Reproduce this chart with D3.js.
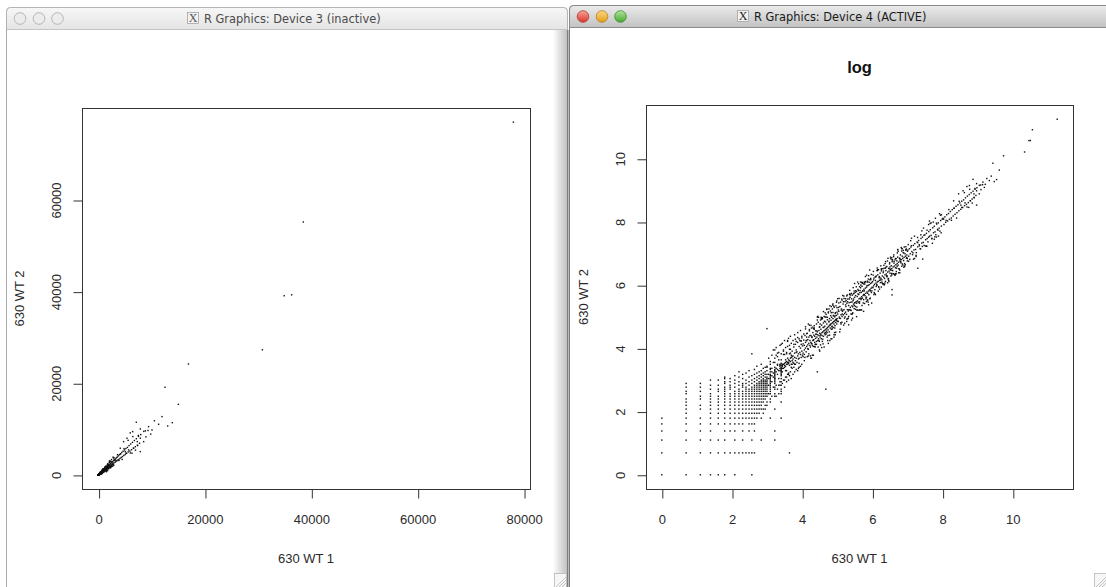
<!DOCTYPE html>
<html>
<head>
<meta charset="utf-8">
<script src="https://cdnjs.cloudflare.com/ajax/libs/d3/7.8.5/d3.min.js"></script>
<style>
  html, body { margin: 0; padding: 0; background: #fff; }
  svg { display: block; }
</style>
</head>
<body>
<svg id="chart" width="1106" height="587"></svg>
<script>
// read counts, [630 WT 1, 630 WT 2]; small counts sit on a grid in the log panel
const lowPairs = [
  [1,1],[1,2],[1,3],[1,4],[1,5],[1,6],
  [2,1],[2,2],[2,3],[2,4],[2,5],[2,6],[2,7],[2,8],[2,9],[2,10],[2,11],[2,13],[2,14],[2,16],[2,18],
  [3,1],[3,2],[3,3],[3,4],[3,5],[3,6],[3,8],[3,9],[3,11],[3,12],[3,14],[3,16],[3,18],
  [4,1],[4,2],[4,3],[4,4],[4,5],[4,6],[4,7],[4,8],[4,9],[4,10],[4,11],[4,12],[4,13],[4,15],[4,17],[4,20],
  [5,1],[5,2],[5,3],[5,5],[5,6],[5,7],[5,8],[5,9],[5,10],[5,11],[5,12],[5,14],[5,15],[5,17],[5,20],
  [6,1],[6,2],[6,3],[6,4],[6,5],[6,6],[6,7],[6,8],[6,9],[6,10],[6,11],[6,12],[6,13],[6,14],[6,15],[6,16],[6,18],[6,19],[6,21],[6,22],
  [7,2],[7,4],[7,5],[7,6],[7,7],[7,8],[7,9],[7,10],[7,11],[7,12],[7,13],[7,15],[7,16],[7,17],[7,19],[7,21],
  [8,1],[8,2],[8,3],[8,4],[8,5],[8,6],[8,7],[8,8],[8,9],[8,10],[8,11],[8,12],[8,13],[8,14],[8,16],[8,18],[8,20],[8,23],
  [9,2],[9,5],[9,6],[9,7],[9,8],[9,9],[9,10],[9,11],[9,12],[9,13],[9,14],[9,15],[9,17],[9,19],[9,22],[9,26],
  [10,2],[10,3],[10,4],[10,5],[10,6],[10,7],[10,8],[10,9],[10,10],[10,11],[10,12],[10,13],[10,14],[10,16],[10,17],[10,18],[10,21],[10,24],
  [11,2],[11,6],[11,7],[11,8],[11,9],[11,10],[11,11],[11,12],[11,13],[11,14],[11,15],[11,16],[11,18],[11,20],[11,25],
  [12,2],[12,4],[12,5],[12,6],[12,7],[12,8],[12,9],[12,10],[12,11],[12,12],[12,13],[12,14],[12,15],[12,17],[12,19],[12,22],[12,27],
  [13,1],[13,2],[13,3],[13,5],[13,6],[13,7],[13,8],[13,9],[13,10],[13,11],[13,12],[13,13],[13,14],[13,15],[13,16],[13,18],[13,20],[13,23],[13,46],
  [14,2],[14,4],[14,5],[14,6],[14,7],[14,8],[14,9],[14,10],[14,11],[14,12],[14,13],[14,14],[14,15],[14,16],[14,17],[14,19],[14,21],[14,24],[14,28],
  [15,6],[15,7],[15,8],[15,9],[15,10],[15,11],[15,12],[15,13],[15,14],[15,15],[15,16],[15,17],[15,18],[15,20],[15,22],[15,25],[15,31],
  [16,7],[16,8],[16,9],[16,10],[16,11],[16,12],[16,13],[16,14],[16,15],[16,16],[16,17],[16,18],[16,19],[16,21],[16,23],[16,26],
  [17,3],[17,6],[17,8],[17,9],[17,10],[17,11],[17,12],[17,13],[17,14],[17,15],[17,16],[17,17],[17,18],[17,19],[17,20],[17,22],[17,24],[17,27],[17,33],
  [18,7],[18,8],[18,10],[18,11],[18,12],[18,13],[18,14],[18,15],[18,16],[18,17],[18,18],[18,19],[18,20],[18,21],[18,23],[18,25],[18,29],
  [19,8],[19,9],[19,11],[19,12],[19,13],[19,14],[19,15],[19,16],[19,17],[19,18],[19,19],[19,20],[19,22],[19,24],[19,26],[19,30],
  [20,9],[20,10],[20,12],[20,13],[20,14],[20,15],[20,16],[20,17],[20,18],[20,19],[20,20],[20,21],[20,22],[20,24],[20,27],[20,31],[20,102],
  [22,6],[22,10],[22,11],[22,13],[22,14],[22,16],[22,17],[22,18],[22,19],[22,20],[22,21],[22,22],[22,23],[22,24],[22,26],[22,28],[22,33],
  [25,3],[25,4],[25,8],[25,12],[25,13],[25,15],[25,16],[25,18],[25,19],[25,20],[25,21],[25,22],[25,23],[25,24],[25,25],[25,26],[25,28],[25,30],[25,35],
  [30,6],[30,10],[30,13],[30,15],[30,17],[30,19],[30,21],[30,23],[30,24],[30,25],[30,26],[30,27],[30,28],[30,29],[30,30],[30,32],[30,34],[30,38],
  [38,2]
]

// where the grid runs into the cloud, counts 20 to 55
const neckPairs = [
  [21,40],[21,13],[22,36],[23,12],[23,44],[24,16],[24,52],[25,40],[26,12],[26,56],[27,15],[27,42],[28,48],[28,13],
  [29,60],[29,19],[30,46],[30,14],[31,64],[31,18],[32,52],[32,20],[33,70],[33,16],[34,56],[34,22],[35,46],[35,19],
  [36,58],[36,24],[37,75],[37,20],[38,60],[38,23],[39,80],[39,26],[40,64],[40,21],[42,70],[42,24],[44,84],[44,26],
  [46,68],[46,28],[48,90],[48,27],[50,74],[50,30],[52,96],[52,31],[54,80],[54,33],
  [21,21],[23,23],[24,25],[26,26],[27,28],[28,27],[29,29],[31,31],[32,33],[33,32],[34,35],[35,36],[36,35],[37,38],
  [38,37],[39,40],[40,41],[41,42],[42,43]
]

const bandA = [
  [21,24],[21,17],[22,29],[23,19],[23,26],[24,22],[24,35],[25,27],[26,29],[26,17],[27,33],[27,24],[28,21],[28,38],
  [29,27],[29,31],[31,33],[31,26],[32,29],[32,45],[33,30],[33,20],[34,38],[34,31],[35,27],[35,48],[36,33],[36,40],
  [37,25],[37,35],[38,46],[38,32],[39,36],[39,53],[40,44],[40,30],[41,33],[41,50],[42,39],[42,35],[43,57],[43,30],
  [44,41],[44,47],[45,37],[45,62],[46,40],[46,52],[47,35],[47,49],[48,43],[48,66],[49,39],[49,46],[50,58],[50,34],
  [51,48],[51,70],[52,55],[52,45],[53,62],[53,41],[54,50],[54,76],[55,44],[55,59],
  [27,32],[29,33],[31,32],[33,34],[35,33],[37,34],[40,33],[43,34],[45,33],[30,62],[25,52],[36,70],[84,26],[107,15],
  [20,30],[22,15],[23,29],[25,21],[26,44],[28,17],[29,32],[31,29],[33,45],[34,27],[36,68],[37,24],[39,47],[41,37],
  [43,62],[44,33],[46,48],[48,77],[50,40],[53,69]
]

const bandB = [
  [56,63],[56,47],[57,71],[58,52],[58,60],[59,82],[60,55],[60,66],[61,49],[62,70],[62,58],[63,88],[64,61],[64,72],
  [65,53],[66,78],[66,64],[67,95],[68,60],[68,70],[69,57],[70,82],[70,66],[71,104],[72,63],[72,77],[73,60],[74,90],
  [74,70],[75,58],[76,83],[76,72],[77,112],[78,66],[78,80],[79,62],[80,95],[80,75],[81,86],[82,68],[82,118],[83,78],
  [84,92],[85,70],[85,84],[86,125],[87,74],[88,96],[88,82],[89,68],[90,108],[90,88],[91,78],[92,134],[93,86],[93,100],
  [94,74],[95,114],[96,90],[96,82],[97,140],[98,92],[99,106],[100,80],[100,122],[101,95],[102,150],[103,88],[104,110],
  [104,97],[105,84],[106,126],[107,100],[108,160],[109,94],[110,118],[110,103],[111,90],[112,135],[113,106],[114,98],
  [115,168],[116,110],[117,126],[118,92],[119,140],[120,113],[121,104],[122,178],[123,118],[124,133],[125,100],[126,146],
  [127,120],[128,110],[129,190],[130,124],[131,140],[132,106],[133,155],[134,127],[135,118],[136,200],[137,130],[138,148],
  [139,112],[140,165],[141,134],[142,124],[143,210],[144,137],[145,155],[146,118],[147,172],[148,140],
  [60,108],[70,40],[85,150],[95,56],[110,190],[120,70],[130,215],[140,84],[65,118],[75,44],[100,175],[115,64],
  [125,205],[135,78],[145,235],[90,50],
  [57,86],[59,41],[62,78],[64,54],[67,114],[69,43],[72,79],[75,71],[77,104],[80,62],[83,95],[86,57],[89,107],[92,83],
  [95,138],[98,73],[101,106],[105,168],[108,86],[112,146],[115,173],[119,83],[123,154],[127,108],[131,223],[135,84],
  [139,153],[143,136],[147,198],
  [58,45],[61,70],[65,43],[68,82],[71,64],[74,107],[78,58],[81,85],[84,134],[88,70],[91,118],[94,141],[97,68],
  [103,129],[106,90],[110,187],[113,70],[117,129],[121,115],[125,169],[129,101],[133,153],[137,90],[141,169],[146,131]
]

const bandC = [
  [150,162],[152,128],[155,176],[157,147],[160,205],[162,141],[165,158],[167,190],[170,150],[172,176],[175,222],
  [177,158],[180,186],[183,165],[185,240],[188,172],[190,205],[193,160],[195,228],[198,186],[200,260],[203,178],
  [205,212],[208,232],[210,186],[213,275],[215,200],[218,235],[220,181],[223,262],[225,210],[228,295],[230,204],
  [233,248],[236,222],[238,312],[240,213],[243,275],[246,232],[248,206],[250,290],[254,240],[256,330],[258,228],
  [262,282],[264,245],[267,352],[270,236],[273,300],[276,262],[279,228],[282,318],[285,268],[288,372],[291,256],
  [294,322],[297,280],[300,390],[304,268],[307,335],[310,292],[314,255],[317,355],[320,300],[324,418],[327,290],
  [331,368],[334,312],[338,276],[342,380],[345,325],[349,445],[353,312],[357,400],[360,335],[364,298],[368,410],
  [372,350],[376,480],[380,336],[384,425],[388,365],[392,320],[396,438],[400,378],
  [155,230],[165,118],[180,265],[195,138],[210,300],[225,160],[240,335],[260,182],[280,385],[300,212],[320,445],
  [340,240],[360,490],[380,268],[170,252],[230,168],[290,405],[350,248],[205,150],[315,420],
  [151,128],[156,265],[161,100],[166,183],[171,162],[177,239],[182,142],[188,216],[194,128],[199,239],[206,185],
  [212,307],[219,162],[226,237],[233,373],[240,192],[247,321],[255,383],[263,184],[271,339],[280,238],[288,446],
  [297,184],[306,337],[316,300],[326,440],[336,262],[346,398],[357,236],[368,442],[380,342],[391,567],
  [153,184],[158,142],[163,236],[169,125],[174,183],[179,286],[185,148],[191,248],[197,296],[203,142],[209,261],
  [216,184],[222,311],[229,142],[236,260],[243,231],[251,339],[259,202],[267,307],[275,182],[284,341],[293,264],
  [302,438],[311,230],[321,337],[331,530],[341,273],[352,458],[363,545],[374,262],[385,481],[397,337]
]

const bandD = [
  [405,452],[410,372],[418,395],[422,505],[428,415],[433,350],[440,468],[446,430],[451,540],[458,402],[463,445],
  [470,560],[476,455],[481,385],[489,512],[494,470],[502,590],[507,438],[515,500],[521,635],[528,478],[535,540],
  [541,420],[549,600],[556,520],[563,690],[570,498],[577,560],[585,455],[592,640],[600,575],[608,730],[616,540],
  [624,610],[632,490],[640,688],[648,630],[657,790],[665,590],[674,665],[683,540],[692,745],[700,680],[709,850],
  [719,640],[728,718],[737,580],[747,810],[757,740],[767,900],[777,700],[787,770],[797,620],[808,870],[818,800],
  [829,980],[840,760],[851,835],[862,680],[873,940],[885,870],[896,1050],[908,820],[920,905],[932,735],[944,1010],
  [957,940],[969,1130],[982,880],[995,975],[1008,800],[1021,1090],[1035,1010],[1048,1220],[1062,950],[1076,1050],
  [1090,870],[1095,1180],
  [420,300],[460,640],[520,380],[580,800],[640,470],[700,960],[760,560],[820,1120],[880,650],[940,1280],[1000,740],
  [480,660],[560,410],[680,930],[790,580],[706,296],[706,351],
  [412,556],[425,319],[437,524],[450,387],[463,695],[477,334],[491,530],[506,476],[521,667],[536,429],[552,629],
  [568,409],[585,690],[602,542],[620,868],[638,498],[657,677],[676,980],[696,585],[716,895],[737,995],[759,569],
  [781,937],[804,691],[828,1242],[852,596],[877,947],[903,849],[930,1190],[957,766],[985,1123],[1014,730],
  [1044,1232],[1075,968],
  [418,477],[431,310],[444,524],[457,411],[470,658],[484,378],[498,513],[513,744],[528,444],[544,680],[560,756],
  [576,432],[593,712],[611,525],[629,944],[647,453],[666,719],[686,645],[706,904],[726,581],[748,853],[770,554],
  [792,935],[816,734],[840,1176],[864,674],[890,917],[916,1328],[943,792],[971,1214],[999,1349],[1029,772],
  [1059,1271],[1090,937]
]

const bandE = [
  [1110,1230],[1135,1010],[1160,1280],[1185,1090],[1210,1350],[1240,1170],[1265,1060],[1295,1420],[1320,1230],
  [1350,1500],[1380,1250],[1410,1130],[1440,1580],[1470,1360],[1505,1660],[1540,1400],[1575,1280],[1610,1770],
  [1645,1530],[1680,1850],[1720,1560],[1760,1420],[1800,1980],[1840,1700],[1880,2080],[1920,1760],[1965,1590],
  [2010,2200],[2055,1900],[2100,2330],[2150,1950],[2200,1780],[2250,2480],[2300,2120],[2350,2600],[2400,2180],
  [2460,1990],[2520,2790],[2580,2360],[2640,2900],[2700,2450],[2760,2230],[2820,3120],[2880,2620],[2950,3260],
  [1200,1650],[1400,1000],[1650,2250],[1900,1380],[2150,2900],[2500,1850],[2800,3700],[1300,920],[2000,2750],
  [2350,1720],[1470,690],[1690,920],
  [1120,1456],[1170,913],[1225,1409],[1280,1126],[1340,1903],[1400,1036],[1465,1553],[1530,1454],[1600,1984],
  [1675,1374],[1750,1960],[1830,1391],[1915,2298],[2000,1840],[2090,2842],[2185,1748],[2285,2971],[2390,1864],
  [2500,2875],[2610,2297],[2730,3877],[2860,2116]
]

// the looser edge of the cloud, log 3.3 to 8
const bandWide = [
  [27,47],[29,17],[32,50],[35,22],[38,53],[41,29],[45,73],[49,29],[53,69],
  [56,42],[60,101],[63,42],[67,99],[71,40],[75,102],[79,57],[84,147],[89,52],[94,146],[99,63],[105,147],[111,78],
  [117,190],[124,74],[131,170],[138,104],[146,245],
  [58,37],[62,87],[66,46],[70,113],[73,44],[77,100],[82,62],[87,146],[92,61],[97,144],[102,57],[108,147],[114,82],
  [120,210],[127,74],[134,208],[142,91],
  [150,263],[159,92],[168,260],[178,114],[188,263],[199,139],[211,342],[223,134],[236,307],[250,188],[265,445],
  [280,185],[297,440],[314,176],[333,453],[352,253],[373,653],[395,229],
  [154,200],[164,123],[173,291],[183,121],[194,287],[205,115],[217,295],[229,165],[243,425],[257,149],[272,422],
  [288,184],[305,427],[323,226],[342,554],[362,217],[384,499],
  [415,623],[440,299],[466,643],[494,356],[523,680],[554,421],[587,851],[622,435],[659,824],[698,558],[740,1051],
  [784,580],[830,1245],[880,598],[932,1286],[988,711],[1047,1361],
  [1130,859],[1230,1784],[1340,938],[1460,1825],[1590,1272],[1730,2457],[1880,1391],[2050,3075],[2230,1516],
  [2430,3353],[2650,1908],[2880,3744]
]

const bandF = [
  [3020,3350],[3100,2750],[3180,3500],[3260,2950],[3350,3750],[3440,3080],[3530,3900],[3620,3250],[3720,4150],
  [3820,3380],[3920,4400],[4030,3600],[4140,4600],[4250,3800],[4370,4900],[4490,4000],[4610,5150],[4740,4250],
  [4870,5450],[5000,4450],[5140,5750],[5280,4700],[5420,6000],[5570,5000],[5720,6400],[5880,5200],[6040,6750],
  [6200,5500],[6370,7100],[6550,5850],[6730,7500],[6910,6150],[7100,7900],[7300,6500],[7500,8400],[7700,6900],
  [7920,8800],[5340,8000],[4700,7260],[7280,7260],[7850,8000],[8470,7260],[7340,6390],[6590,5820],[5650,5450],
  [5020,5080],[6280,4730],[7850,5080],[4080,5820],[5960,9160],[6400,9440],[7090,11490],[7850,10030],
  [3070,3254],[3300,3135],[3560,4414],[3830,3141],[4120,4614],[4440,3374],[4780,5736],[5150,4738],[5550,7548],
  [5980,4784],[6440,8372],[6940,5413],[7480,8602]
]

const tailPairs = [
  [9400,10530],[10040,9810],[8800,9600],[9300,9700],[8500,9500],[11290,11050],[12990,10690],[13870,11400],
  [11930,12720],[15000,15400],[12490,19130],[16900,24200],[9800,8900],[10500,11800],[8900,8300],
  [30800,27300],[34900,39100],[36300,39300],[38500,55200],[78000,77000]
]

const rawTicksX = [0, 20000, 40000, 60000, 80000]
const rawTicksY = [0, 20000, 40000, 60000]
const logTicks = [0, 2, 4, 6, 8, 10]

const windowTitles = ["R Graphics: Device 3 (inactive)", "R Graphics: Device 4 (ACTIVE)"]
const plotTitle = "log"
const xLabel = "630 WT 1"
const yLabel = "630 WT 2"

let counts = [].concat(lowPairs, neckPairs, bandA, bandB, bandC, bandD, bandE, bandWide, bandF, tailPairs)
let logged = counts.map(function(p) { return [Math.log(p[0]), Math.log(p[1])] })

let svg = d3.select("#chart")
let defs = svg.append("defs")

function gradient(id, top, bottom) {
  let g = defs.append("linearGradient").attr("id", id)
    .attr("x1", 0).attr("y1", 0).attr("x2", 0).attr("y2", 1)
  g.append("stop").attr("offset", "0%").attr("stop-color", top)
  g.append("stop").attr("offset", "100%").attr("stop-color", bottom)
}
gradient("barInactive", "#f7f7f7", "#e4e4e4")
gradient("barActive", "#ebebeb", "#c2c2c2")
gradient("red", "#f7a39a", "#d9362a")
gradient("yellow", "#fbd98a", "#e29d16")
gradient("green", "#b2e69c", "#45a82f")

let shadow = defs.append("linearGradient").attr("id", "shadow")
  .attr("x1", 0).attr("y1", 0).attr("x2", 1).attr("y2", 0)
shadow.append("stop").attr("offset", "0%").attr("stop-color", "#000").attr("stop-opacity", 0)
shadow.append("stop").attr("offset", "100%").attr("stop-color", "#000").attr("stop-opacity", 0.28)

// ---- window frames ----
function drawWindow(left, top, width, active, title, iconX) {
  let w = svg.append("g")
  w.append("rect")
    .attr("x", left + 0.5).attr("y", top + 0.5)
    .attr("width", width).attr("height", 700)
    .attr("rx", 4)
    .attr("fill", "#fff")
    .attr("stroke", active ? "#7d7d7d" : "#a9a9a9")
  w.append("path")
    .attr("d", "M" + (left + 0.5) + "," + (top + 22.5) + " V" + (top + 4.5) +
      " Q" + (left + 0.5) + "," + (top + 0.5) + " " + (left + 4.5) + "," + (top + 0.5) +
      " H" + (left + width - 3.5) + " Q" + (left + width + 0.5) + "," + (top + 0.5) + " " +
      (left + width + 0.5) + "," + (top + 4.5) + " V" + (top + 22.5) + " Z")
    .attr("fill", active ? "url(#barActive)" : "url(#barInactive)")
    .attr("stroke", active ? "#8a8a8a" : "#b4b4b4")
  w.append("line")
    .attr("x1", left + 1).attr("x2", left + width)
    .attr("y1", top + 22.5).attr("y2", top + 22.5)
    .attr("stroke", active ? "#8c8c8c" : "#c4c4c4")

  let fills = ["url(#red)", "url(#yellow)", "url(#green)"]
  let strokes = ["#b0372c", "#b97d16", "#3b8a2c"]
  ;[14, 33, 51.5].forEach(function(dx, i) {
    w.append("circle")
      .attr("cx", left + dx).attr("cy", top + 11.5).attr("r", 5.8)
      .attr("fill", active ? fills[i] : "#ececec")
      .attr("stroke", active ? strokes[i] : "#a6a6a6")
      .attr("stroke-width", 0.8)
  })

  // X11 icon
  w.append("rect")
    .attr("x", iconX + 0.5).attr("y", top + 5.5).attr("width", 11).attr("height", 11)
    .attr("fill", "#f2f2f2").attr("stroke", "#9a9a9a").attr("stroke-width", 0.7)
  w.append("text")
    .attr("x", iconX + 6).attr("y", top + 15)
    .attr("text-anchor", "middle")
    .attr("font-family", "Liberation Serif")
    .attr("font-size", 12)
    .attr("fill", active ? "#222" : "#555")
    .text("X")
  w.append("text")
    .attr("x", iconX + 17).attr("y", top + 15.5)
    .attr("font-family", "DejaVu Sans")
    .attr("font-size", 11.4)
    .attr("fill", active ? "#1a1a1a" : "#4a4a4a")
    .text(title)
  return w
}

drawWindow(6, 7, 561, false, windowTitles[0], 187)

// shadow thrown by the front window on the back one
svg.append("rect")
  .attr("x", 553).attr("y", 30).attr("width", 16).attr("height", 560)
  .attr("fill", "url(#shadow)")

drawWindow(569, 5, 560, true, windowTitles[1], 737)

function grip(x, y) {
  let g = svg.append("g").attr("stroke", "#b8b8b8").attr("stroke-width", 0.8)
  g.append("rect").attr("x", x + 0.5).attr("y", y + 0.5).attr("width", 12).attr("height", 14)
    .attr("fill", "#f6f6f6")
  ;[4, 7, 10].forEach(function(d) {
    g.append("line").attr("x1", x + 12).attr("y1", y + 14 - d).attr("x2", x + 12 - d).attr("y2", y + 14)
  })
}
grip(554, 573)
grip(1094, 573)

// ---- plots ----
function pad(ext) {
  let r = ext[1] - ext[0]
  return [ext[0] - 0.04 * r, ext[1] + 0.04 * r]
}

function panel(box, data, xTicks, yTicks, title) {
  let g = svg.append("g")
  let x = d3.scaleLinear()
    .domain(pad(d3.extent(data, function(d) { return d[0] })))
    .range([box.left, box.right])
  let y = d3.scaleLinear()
    .domain(pad(d3.extent(data, function(d) { return d[1] })))
    .range([box.bottom, box.top])

  g.append("g")
    .selectAll("rect")
    .data(data)
    .enter()
    .append("rect")
    .attr("x", function(d) { return x(d[0]) - 0.7 })
    .attr("y", function(d) { return y(d[1]) - 0.7 })
    .attr("width", 1.4)
    .attr("height", 1.4)
    .attr("fill", "#111")

  g.append("rect")
    .attr("x", box.left + 0.5).attr("y", box.top + 0.5)
    .attr("width", box.right - box.left).attr("height", box.bottom - box.top)
    .attr("fill", "none")
    .attr("stroke", "#333")

  let xAxis = g.append("g")
    .attr("transform", "translate(0," + (box.bottom + 0.5) + ")")
    .call(d3.axisBottom(x).tickValues(xTicks).tickSize(9).tickSizeOuter(0).tickFormat(d3.format("d")))
  xAxis.select(".domain").remove()
  xAxis.selectAll("line").attr("stroke", "#333").attr("transform", "translate(0.5,0)")
  xAxis.selectAll("text")
    .attr("y", 34).attr("dy", 0)
    .attr("font-family", "Liberation Sans").attr("font-size", 13).attr("fill", "#2a2a2a")

  let yAxis = g.append("g")
    .attr("transform", "translate(" + (box.left + 0.5) + ",0)")
    .call(d3.axisLeft(y).tickValues(yTicks).tickSize(9).tickSizeOuter(0).tickFormat(d3.format("d")))
  yAxis.select(".domain").remove()
  yAxis.selectAll("line").attr("stroke", "#333").attr("transform", "translate(0,0.5)")
  yAxis.selectAll("text")
    .attr("transform", "rotate(-90)")
    .attr("x", 0).attr("y", -22).attr("dy", 0)
    .attr("text-anchor", "middle")
    .attr("font-family", "Liberation Sans").attr("font-size", 13).attr("fill", "#2a2a2a")

  let cx = (box.left + box.right) / 2
  let cy = (box.top + box.bottom) / 2
  g.append("text")
    .attr("x", cx).attr("y", box.bottom + 74)
    .attr("text-anchor", "middle")
    .attr("font-family", "Liberation Sans").attr("font-size", 13).attr("fill", "#2a2a2a")
    .text(xLabel)
  g.append("text")
    .attr("transform", "translate(" + (box.left - 58) + "," + cy + ") rotate(-90)")
    .attr("text-anchor", "middle")
    .attr("font-family", "Liberation Sans").attr("font-size", 13).attr("fill", "#2a2a2a")
    .text(yLabel)

  if (title) {
    g.append("text")
      .attr("x", cx).attr("y", box.top - 32)
      .attr("text-anchor", "middle")
      .attr("font-family", "Liberation Sans").attr("font-weight", "bold")
      .attr("font-size", 16.5).attr("fill", "#111")
      .text(title)
  }
}

panel({ left: 82, right: 530, top: 108, bottom: 489 }, counts, rawTicksX, rawTicksY, null)
panel({ left: 646, right: 1073, top: 105, bottom: 489 }, logged, logTicks, logTicks, plotTitle)
</script>
</body>
</html>
